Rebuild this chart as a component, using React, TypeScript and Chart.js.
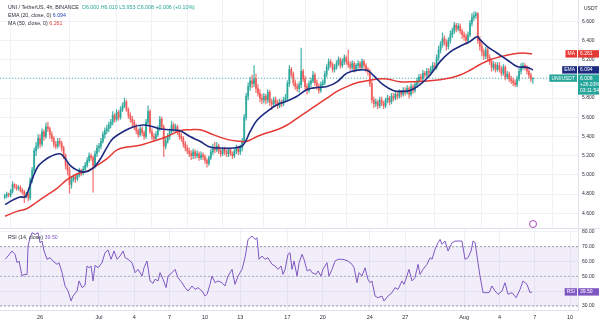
import React, { useEffect, useRef } from "react";
import { Chart, registerables } from "chart.js";
Chart.register(...registerables);

const FONT = "'Liberation Sans', Arial, sans-serif";
Chart.defaults.font.family = FONT;

// ---- data ----
const START_DAY = 23; // first candle: June 23, 00:00 (days counted from June 0; Jul 1 = 31, Aug 1 = 62)
const CANDLES_PER_DAY = 6; // 4h candles
const FIRST_OPEN = 4.77;

const closes = [
  4.78, 4.80, 4.79, 4.83, 4.90, 4.88,
  4.86, 4.87, 4.84, 4.82, 4.78, 4.80,
  4.76, 4.95, 5.05, 5.25, 5.30, 5.38,
  5.32, 5.45, 5.40, 5.50, 5.48, 5.42,
  5.38, 5.32, 5.30, 5.35, 5.33, 5.28,
  5.20, 5.10, 5.05, 4.90, 4.95, 4.98,
  4.96, 5.00, 5.04, 5.02, 5.06, 5.10,
  5.15, 5.20, 5.18, 5.10, 5.22, 5.28,
  5.30, 5.35, 5.42, 5.46, 5.48, 5.52,
  5.55, 5.62, 5.58, 5.65, 5.60, 5.68,
  5.72, 5.76, 5.68, 5.62, 5.58, 5.55,
  5.50, 5.46, 5.42, 5.48, 5.44, 5.40,
  5.55, 5.66, 5.45, 5.40, 5.38, 5.42,
  5.48, 5.58, 5.50, 5.30, 5.35, 5.40,
  5.45, 5.52, 5.48, 5.50, 5.45, 5.40,
  5.38, 5.32, 5.28, 5.25, 5.22, 5.20,
  5.24, 5.20, 5.22, 5.18, 5.21, 5.19,
  5.15, 5.12, 5.18, 5.24, 5.28, 5.26,
  5.30, 5.25, 5.22, 5.27, 5.24, 5.22,
  5.26, 5.22, 5.20, 5.25, 5.28, 5.24,
  5.28, 5.35, 5.60, 5.82, 5.92, 5.98,
  5.95, 6.00, 5.90, 5.85, 5.80, 5.78,
  5.82, 5.78, 5.86, 5.76, 5.74, 5.78,
  5.75, 5.72, 5.76, 5.74, 5.78, 5.80,
  5.95, 6.10, 6.05, 5.96, 5.92, 5.90,
  5.94, 6.08, 6.00, 5.92, 5.88, 5.95,
  5.98, 6.04, 5.96, 5.92, 5.88, 5.94,
  5.96, 6.05, 6.12, 6.18, 6.15, 6.10,
  6.12, 6.16, 6.20, 6.14, 6.18, 6.22,
  6.18, 6.15, 6.12, 6.16, 6.10, 6.14,
  6.16, 6.12, 6.18, 6.14, 6.10, 6.08,
  5.95, 5.78, 5.74, 5.76, 5.72, 5.78,
  5.75, 5.72, 5.78, 5.80, 5.76, 5.82,
  5.80, 5.84, 5.82, 5.86, 5.84, 5.88,
  5.86, 5.90, 5.84, 5.92, 5.88, 5.94,
  5.98, 6.02, 6.00, 6.06, 6.04, 6.08,
  6.06, 6.10, 6.14, 6.12, 6.22, 6.30,
  6.36, 6.42, 6.38, 6.34, 6.40, 6.46,
  6.50, 6.56, 6.52, 6.55, 6.50, 6.46,
  6.44, 6.40, 6.46, 6.58, 6.64, 6.66,
  6.68, 6.40, 6.34, 6.28, 6.24, 6.30,
  6.22, 6.18, 6.12, 6.15, 6.10, 6.14,
  6.10, 6.06, 6.12, 6.02, 6.05, 6.00,
  5.98, 5.96, 5.94, 6.00, 6.08, 6.12,
  6.14, 6.12, 6.08, 6.04, 6.00, 6.008,
];

const highs = [
  4.80, 4.82, 4.81, 4.85, 4.93, 4.91,
  4.90, 4.89, 4.89, 4.86, 4.84, 4.82,
  4.82, 4.97, 5.08, 5.28, 5.34, 5.42,
  5.42, 5.48, 5.47, 5.54, 5.55, 5.50,
  5.45, 5.40, 5.35, 5.38, 5.38, 5.35,
  5.30, 5.22, 5.13, 5.08, 4.98, 5.00,
  5.01, 5.02, 5.07, 5.06, 5.09, 5.13,
  5.18, 5.23, 5.22, 5.20, 5.25, 5.31,
  5.33, 5.38, 5.45, 5.49, 5.52, 5.55,
  5.58, 5.66, 5.64, 5.68, 5.67, 5.71,
  5.75, 5.80, 5.78, 5.70, 5.65, 5.61,
  5.57, 5.53, 5.48, 5.51, 5.50, 5.46,
  5.58, 5.72, 5.68, 5.48, 5.43, 5.45,
  5.51, 5.61, 5.60, 5.52, 5.38, 5.43,
  5.48, 5.56, 5.54, 5.53, 5.52, 5.47,
  5.43, 5.40, 5.35, 5.31, 5.28, 5.25,
  5.27, 5.26, 5.25, 5.24, 5.24, 5.23,
  5.21, 5.17, 5.20, 5.27, 5.32, 5.34,
  5.34, 5.32, 5.27, 5.29, 5.29, 5.26,
  5.28, 5.28, 5.24, 5.27, 5.31, 5.30,
  5.31, 5.38, 5.63, 5.85, 5.96, 6.02,
  6.04, 6.14, 6.05, 5.94, 5.89, 5.84,
  5.85, 5.84, 5.89, 5.88, 5.79, 5.81,
  5.81, 5.78, 5.79, 5.78, 5.81, 5.84,
  5.98, 6.14, 6.12, 6.07, 5.99, 5.95,
  5.97, 6.32, 6.10, 6.03, 5.95, 5.98,
  6.01, 6.08, 6.06, 5.99, 5.95, 5.97,
  5.99, 6.08, 6.15, 6.21, 6.20, 6.17,
  6.15, 6.19, 6.23, 6.22, 6.21, 6.25,
  6.24, 6.30, 6.18, 6.19, 6.18, 6.16,
  6.19, 6.18, 6.21, 6.20, 6.16, 6.12,
  6.10, 5.98, 5.81, 5.79, 5.78, 5.81,
  5.81, 5.77, 5.80, 5.83, 5.82, 5.85,
  5.85, 5.87, 5.86, 5.89, 5.88, 5.91,
  5.91, 5.93, 5.92, 5.95, 5.94, 5.97,
  6.01, 6.05, 6.05, 6.09, 6.08, 6.11,
  6.11, 6.13, 6.17, 6.17, 6.25, 6.34,
  6.39, 6.48, 6.45, 6.41, 6.43, 6.50,
  6.53, 6.59, 6.58, 6.58, 6.57, 6.52,
  6.49, 6.47, 6.49, 6.61, 6.68, 6.70,
  6.70, 6.69, 6.44, 6.38, 6.31, 6.33,
  6.32, 6.25, 6.21, 6.18, 6.17, 6.17,
  6.17, 6.13, 6.15, 6.14, 6.08, 6.07,
  6.03, 6.01, 5.99, 6.03, 6.11, 6.16,
  6.17, 6.16, 6.14, 6.10, 6.06, 6.010,
];

const lows = [
  4.75, 4.76, 4.77, 4.77, 4.81, 4.86,
  4.84, 4.84, 4.82, 4.80, 4.71, 4.76,
  4.73, 4.74, 4.92, 5.02, 5.20, 5.27,
  5.28, 5.30, 5.36, 5.38, 5.45, 5.38,
  5.35, 5.29, 5.27, 5.28, 5.30, 5.25,
  5.17, 5.06, 5.00, 4.81, 4.86, 4.93,
  4.92, 4.94, 4.98, 4.99, 5.00, 5.04,
  5.08, 5.13, 5.15, 4.82, 5.07, 5.19,
  5.24, 5.27, 5.33, 5.38, 5.43, 5.45,
  5.49, 5.52, 5.55, 5.56, 5.57, 5.58,
  5.66, 5.70, 5.66, 5.59, 5.55, 5.51,
  5.47, 5.43, 5.39, 5.40, 5.41, 5.37,
  5.38, 5.52, 5.43, 5.37, 5.35, 5.36,
  5.40, 5.46, 5.47, 5.19, 5.27, 5.33,
  5.37, 5.43, 5.45, 5.45, 5.42, 5.37,
  5.35, 5.29, 5.25, 5.22, 5.19, 5.16,
  5.17, 5.17, 5.18, 5.15, 5.16, 5.16,
  5.12, 5.08, 5.10, 5.16, 5.21, 5.23,
  5.24, 5.22, 5.19, 5.20, 5.21, 5.19,
  5.19, 5.20, 5.17, 5.18, 5.22, 5.21,
  5.21, 5.25, 5.33, 5.57, 5.78, 5.88,
  5.91, 5.92, 5.86, 5.82, 5.76, 5.74,
  5.75, 5.74, 5.75, 5.72, 5.68, 5.71,
  5.72, 5.69, 5.70, 5.71, 5.72, 5.76,
  5.78, 5.92, 6.02, 5.93, 5.89, 5.87,
  5.86, 5.91, 5.97, 5.89, 5.84, 5.86,
  5.92, 5.96, 5.93, 5.89, 5.85, 5.86,
  5.91, 5.94, 6.02, 6.09, 6.12, 6.07,
  6.07, 6.10, 6.14, 6.11, 6.12, 6.15,
  6.15, 6.12, 6.09, 6.10, 6.07, 6.08,
  6.11, 6.09, 6.10, 6.11, 6.07, 6.04,
  5.92, 5.75, 5.70, 5.71, 5.69, 5.70,
  5.72, 5.69, 5.70, 5.75, 5.73, 5.74,
  5.77, 5.78, 5.79, 5.80, 5.81, 5.82,
  5.83, 5.84, 5.80, 5.82, 5.85, 5.86,
  5.91, 5.95, 5.97, 5.98, 6.01, 6.02,
  6.02, 6.04, 6.07, 6.09, 6.10, 6.19,
  6.27, 6.33, 6.35, 6.30, 6.31, 6.37,
  6.43, 6.47, 6.49, 6.50, 6.47, 6.42,
  6.40, 6.36, 6.37, 6.44, 6.55, 6.61,
  6.63, 6.37, 6.30, 6.24, 6.20, 6.21,
  6.19, 6.15, 6.08, 6.09, 6.07, 6.08,
  6.07, 6.03, 6.04, 5.99, 6.00, 5.97,
  5.95, 5.93, 5.92, 5.92, 5.98, 6.05,
  6.10, 6.09, 6.05, 6.01, 5.97, 5.953,
];

const emaDays = [
  23.03, 23.71, 24.30, 24.73, 24.98, 25.41, 25.83, 26.25, 26.85, 27.70, 28.12, 28.55, 29.14,
  29.82, 30.50, 31.09, 31.69, 32.20, 33.05, 33.89, 34.74, 35.34, 36.19, 37.04, 37.88, 38.73,
  39.58, 40.43, 41.28, 42.38, 43.23, 43.83, 44.42, 45.27, 46.12, 46.97, 47.82, 48.67, 49.51,
  50.36, 51.21, 52.06, 52.91, 53.76, 54.27, 55.12, 55.97, 56.56, 57.41, 58.26, 59.11, 59.96,
  60.80, 61.65, 62.50, 63.10, 63.35, 63.95, 64.79, 65.64, 66.49, 67.34, 67.85,
];
const emaValues = [
  4.69, 4.74, 4.77, 4.77, 4.83, 4.98, 5.09, 5.14, 5.19, 5.22, 5.17, 5.10, 5.05,
  5.03, 5.07, 5.16, 5.29, 5.38, 5.45, 5.50, 5.52, 5.51, 5.48, 5.47, 5.46, 5.40,
  5.35, 5.29, 5.28, 5.28, 5.31, 5.45, 5.57, 5.66, 5.73, 5.77, 5.82, 5.89, 5.91,
  5.92, 5.97, 6.06, 6.09, 6.09, 6.04, 5.94, 5.88, 5.87, 5.88, 5.94, 6.04, 6.18,
  6.28, 6.34, 6.39, 6.44, 6.41, 6.34, 6.27, 6.20, 6.13, 6.12, 6.094,
];

const maDays = [
  23.03, 24.05, 24.90, 25.75, 26.59, 27.44, 28.29, 29.14, 29.99, 30.84, 31.69, 32.54, 33.39,
  34.49, 35.59, 36.78, 37.88, 38.73, 39.58, 40.69, 41.87, 42.98, 43.57, 44.42, 45.27, 46.12,
  46.97, 47.82, 48.67, 49.51, 50.36, 51.21, 52.06, 52.91, 53.76, 54.61, 55.46, 56.56, 57.41,
  59.11, 60.80, 61.65, 62.50, 63.35, 64.20, 65.05, 66.15, 67.00, 67.77,
];
const maValues = [
  4.57, 4.62, 4.65, 4.72, 4.79, 4.86, 4.95, 5.01, 5.04, 5.10, 5.17, 5.26, 5.29,
  5.31, 5.35, 5.40, 5.46, 5.47, 5.47, 5.42, 5.37, 5.35, 5.35, 5.40, 5.44, 5.47,
  5.52, 5.59, 5.66, 5.73, 5.80, 5.87, 5.92, 5.96, 5.98, 6.00, 6.00, 5.97, 5.97,
  5.98, 6.01, 6.04, 6.09, 6.15, 6.20, 6.23, 6.26, 6.27, 6.261,
];

const rsiDays = [
  23.03, 23.28, 23.62, 23.88, 24.05, 24.22, 24.47, 24.64, 24.90, 24.98, 25.15, 25.32, 25.58,
  25.83, 26.00, 26.17, 26.34, 26.59, 26.85, 27.10, 27.44, 27.61, 27.87, 28.12, 28.38, 28.63,
  28.80, 29.14, 29.31, 29.57, 29.82, 29.99, 30.16, 30.33, 30.50, 30.67, 30.92, 31.26, 31.52,
  31.77, 32.03, 32.28, 32.54, 32.79, 33.05, 33.22, 33.47, 33.81, 34.07, 34.32, 34.66, 34.83,
  35.08, 35.34, 35.59, 35.76, 36.02, 36.19, 36.44, 36.70, 36.87, 37.21, 37.46, 37.71, 38.05,
  38.31, 38.56, 38.90, 39.16, 39.41, 39.75, 40.01, 40.18, 40.43, 40.60, 40.86, 41.11, 41.45,
  41.70, 41.96, 42.30, 42.55, 42.81, 43.15, 43.40, 43.66, 44.00, 44.25, 44.42, 44.59, 44.84,
  45.10, 45.35, 45.69, 45.95, 46.20, 46.46, 46.63, 46.80, 47.05, 47.22, 47.39, 47.56, 47.82,
  47.99, 48.24, 48.41, 48.67, 48.92, 49.09, 49.43, 49.60, 49.85, 50.02, 50.36, 50.53, 50.79,
  51.04, 51.30, 51.72, 52.15, 52.49, 52.66, 52.91, 53.08, 53.33, 53.59, 53.84, 54.01, 54.18,
  54.44, 54.69, 55.03, 55.20, 55.54, 55.88, 56.13, 56.39, 56.73, 56.90, 57.15, 57.32, 57.58,
  57.83, 58.09, 58.26, 58.51, 58.85, 59.11, 59.28, 59.53, 59.79, 59.96, 60.13, 60.38, 60.64,
  60.98, 61.23, 61.48, 61.82, 62.08, 62.33, 62.59, 62.76, 62.93, 63.18, 63.35, 63.61, 63.86,
  64.12, 64.37, 64.63, 64.88, 65.22, 65.47, 65.73, 66.07, 66.41, 66.75, 67.00, 67.34, 67.60,
  67.77,
];
const rsiValues = [
  61.5, 63.7, 67.1, 64.8, 59.2, 60.3, 50.2, 51.3, 51.3, 70.4, 76.0, 79.4, 78.3,
  79.4, 72.7, 73.8, 67.1, 61.5, 62.6, 60.3, 58.1, 59.2, 52.5, 43.5, 40.1, 33.4,
  36.7, 40.1, 46.9, 42.4, 43.9, 57.0, 55.8, 57.0, 46.9, 57.4, 55.8, 59.2, 66.0,
  67.8, 61.5, 67.1, 61.5, 63.7, 67.1, 62.6, 61.5, 59.2, 52.5, 54.7, 50.2, 55.8,
  60.3, 46.9, 45.3, 48.0, 46.9, 52.5, 48.0, 42.4, 50.2, 52.5, 54.7, 49.1, 45.7,
  42.4, 40.1, 43.5, 41.2, 42.4, 40.1, 36.7, 37.9, 44.6, 50.2, 45.7, 46.9, 45.7,
  43.5, 50.2, 54.7, 44.6, 50.2, 54.7, 62.6, 74.9, 77.2, 74.9, 76.0, 61.5, 63.7,
  61.5, 62.6, 58.1, 57.0, 54.7, 57.0, 51.3, 54.7, 64.8, 66.0, 54.7, 60.3, 50.2,
  59.2, 64.8, 61.5, 53.6, 54.7, 52.5, 51.3, 53.6, 50.2, 54.7, 59.2, 50.2, 54.7,
  60.3, 61.5, 61.5, 60.3, 58.1, 55.8, 45.7, 52.5, 50.2, 55.8, 48.0, 45.7, 46.9,
  36.7, 35.6, 36.7, 33.4, 36.7, 39.0, 42.4, 41.2, 46.9, 44.6, 50.2, 54.7, 46.9,
  49.1, 58.1, 51.3, 54.7, 58.1, 62.6, 61.5, 68.2, 72.7, 74.9, 71.6, 73.8, 67.1,
  72.7, 73.8, 73.8, 73.8, 61.5, 62.6, 67.1, 73.8, 72.7, 59.2, 50.2, 39.0, 39.0,
  39.0, 43.5, 40.1, 37.9, 40.1, 45.7, 37.9, 39.0, 35.6, 41.2, 46.9, 44.6, 39.0,
  39.5,
];

const priceTicks = [4.6, 4.8, 5.0, 5.2, 5.4, 5.6, 5.8, 6.0, 6.2, 6.4, 6.6];
const rsiTicks = [30, 40, 50, 60, 70, 80];
const rsiBand = [70, 30];
const rsiMid = 50;
const xTickDays = [26, 31, 34, 37, 40, 43, 47, 50, 54, 57, 62, 65, 68, 71];
const xTickLabels = ["26", "Jul", "4", "7", "10", "13", "17", "20", "24", "27", "Aug", "4", "7", "10"];

const lastEma = 6.094;
const lastMa = 6.261;
const lastRsi = 39.5;
const changeText = "+0.006 (+0.10%)";
const lastTagExtra = ["+26.03%", "03:11:54"];

// view window
const X_MIN = 22.6;
const X_MAX = 71.67;
const PRICE_MIN = 4.447;
const PRICE_MAX = 6.822;
const RSI_MIN = 27.3;
const RSI_MAX = 82.6;

// ---- styles ----
const UP = "#26a69a";
const DOWN = "#ef5350";
const UP_SOFT = "rgba(38,166,154,0.85)";
const DOWN_SOFT = "rgba(239,83,80,0.8)";
const EMA_COLOR = "#1c2a80";
const MA_COLOR = "#e53935";
const RSI_COLOR = "#7e57c2";
const GRID = "#eef1f6";
const TEXT = "#2a2e39";
const AXIS_W = 22;

const opens = closes.map((c, i) => (i === 0 ? FIRST_OPEN : closes[i - 1]));
const times = closes.map((_, i) => START_DAY + i / CANDLES_PER_DAY);
const candleColors = closes.map((c, i) => (c >= opens[i] ? UP_SOFT : DOWN_SOFT));
const lastIdx = closes.length - 1;
const lastClose = closes[lastIdx];

type Tag = { name: string; value: number; lines: string[]; color: string };

function tagPlugin(id: string, scaleId: string, tags: Tag[]) {
  return {
    id,
    afterDraw(chart: any) {
      const { ctx, chartArea } = chart;
      const scale = chart.scales[scaleId];
      ctx.save();
      ctx.font = `5px ${FONT}`;
      ctx.textBaseline = "middle";
      tags.forEach((t) => {
        const y = scale.getPixelForValue(t.value);
        const lh = 6.4;
        const top = y - lh / 2 - 0.5;
        const nw = ctx.measureText(t.name).width + 4;
        ctx.fillStyle = t.color;
        ctx.fillRect(chartArea.right - nw - 1, top, nw, lh + 1);
        ctx.fillRect(chartArea.right, top, chart.width - chartArea.right - 1, t.lines.length * lh + 1);
        ctx.fillStyle = "#ffffff";
        ctx.textAlign = "center";
        ctx.fillText(t.name, chartArea.right - 1 - nw / 2, y);
        ctx.textAlign = "left";
        t.lines.forEach((l, k) => ctx.fillText(l, chartArea.right + 2, y + k * lh));
      });
      ctx.restore();
    },
  };
}

function zeroPad(s: any) {
  s.paddingTop = 0;
  s.paddingBottom = 0;
  s.paddingLeft = 0;
  s.paddingRight = 0;
}

function xScale(showLabels: boolean) {
  return {
    type: "linear" as const,
    min: X_MIN,
    max: X_MAX,
    offset: false,
    afterBuildTicks: (s: any) => {
      s.ticks = xTickDays.map((v) => ({ value: v }));
    },
    ticks: {
      display: showLabels,
      autoSkip: false,
      maxRotation: 0,
      padding: 4,
      color: TEXT,
      font: { size: 5.5 },
      callback: (_v: any, i: number) => xTickLabels[i],
    },
    grid: { color: GRID, drawTicks: false },
    border: { display: showLabels, color: "#e0e3eb" },
    afterFit: (s: any) => {
      s.height = showLabels ? 11 : 0;
      zeroPad(s);
    },
  };
}

export default function App() {
  const mainRef = useRef<HTMLCanvasElement>(null);
  const rsiRef = useRef<HTMLCanvasElement>(null);

  useEffect(() => {
    const mainChart = new Chart(mainRef.current!, {
      type: "bar",
      data: {
        datasets: [
          {
            type: "line",
            data: emaDays.map((d, i) => ({ x: d, y: emaValues[i] })),
            borderColor: EMA_COLOR,
            borderWidth: 1.6,
            pointRadius: 0,
            tension: 0.4,
            order: 1,
          } as any,
          {
            type: "line",
            data: maDays.map((d, i) => ({ x: d, y: maValues[i] })),
            borderColor: MA_COLOR,
            borderWidth: 1.5,
            pointRadius: 0,
            tension: 0.4,
            order: 2,
          },
          {
            type: "bar",
            data: times.map((t, i) => ({ x: t, y: [opens[i], closes[i]] })),
            backgroundColor: candleColors,
            barThickness: 1.2,
            minBarLength: 0.6,
            grouped: false,
            order: 3,
          },
          {
            type: "bar",
            data: times.map((t, i) => ({ x: t, y: [lows[i], highs[i]] })),
            backgroundColor: candleColors,
            barThickness: 0.6,
            grouped: false,
            order: 4,
          },
          {
            type: "line",
            data: [
              { x: X_MIN, y: lastClose },
              { x: X_MAX, y: lastClose },
            ],
            borderColor: "rgba(38,166,154,0.8)",
            borderWidth: 1,
            borderDash: [1, 2],
            pointRadius: 0,
            order: 5,
          },
        ],
      } as any,
      options: {
        responsive: false,
        animation: false,
        devicePixelRatio: 1,
        layout: { padding: 0 },
        plugins: { legend: { display: false }, tooltip: { enabled: false } },
        events: [],
        scales: {
          x: xScale(false),
          y: {
            type: "linear",
            position: "right",
            min: PRICE_MIN,
            max: PRICE_MAX,
            afterBuildTicks: (s: any) => {
              s.ticks = priceTicks.map((v) => ({ value: v }));
            },
            ticks: {
              padding: 4,
              color: TEXT,
              font: { size: 5 },
              callback: (v: any) => Number(v).toFixed(3),
            },
            grid: { color: GRID, drawTicks: false },
            border: { display: true, color: "#e0e3eb" },
            afterFit: (s: any) => {
              s.width = AXIS_W;
              zeroPad(s);
            },
          },
        },
      } as any,
      plugins: [
        tagPlugin("mainTags", "y", [
          { name: "MA", value: lastMa, lines: [lastMa.toFixed(3)], color: MA_COLOR },
          { name: "EMA", value: lastEma, lines: [lastEma.toFixed(3)], color: EMA_COLOR },
          { name: "UNI/USDT", value: lastClose, lines: [lastClose.toFixed(3), ...lastTagExtra], color: UP },
        ]),
      ],
    });

    const rsiChart = new Chart(rsiRef.current!, {
      type: "line",
      data: {
        datasets: [
          {
            data: rsiDays.map((d, i) => ({ x: d, y: rsiValues[i] })),
            borderColor: RSI_COLOR,
            borderWidth: 1,
            pointRadius: 0,
            tension: 0,
            order: 1,
          },
          {
            data: [
              { x: X_MIN, y: rsiBand[0] },
              { x: X_MAX, y: rsiBand[0] },
            ],
            borderColor: "rgba(120,123,134,0.7)",
            borderWidth: 1,
            borderDash: [2, 2],
            pointRadius: 0,
            fill: { value: rsiBand[1] },
            backgroundColor: "rgba(126,87,194,0.1)",
            order: 3,
          },
          {
            data: [
              { x: X_MIN, y: rsiMid },
              { x: X_MAX, y: rsiMid },
            ],
            borderColor: "rgba(120,123,134,0.5)",
            borderWidth: 1,
            borderDash: [2, 2],
            pointRadius: 0,
            order: 2,
          },
          {
            data: [
              { x: X_MIN, y: rsiBand[1] },
              { x: X_MAX, y: rsiBand[1] },
            ],
            borderColor: "rgba(120,123,134,0.7)",
            borderWidth: 1,
            borderDash: [2, 2],
            pointRadius: 0,
            order: 2,
          },
        ],
      } as any,
      options: {
        responsive: false,
        animation: false,
        devicePixelRatio: 1,
        layout: { padding: 0 },
        plugins: { legend: { display: false }, tooltip: { enabled: false } },
        events: [],
        scales: {
          x: xScale(true),
          y: {
            type: "linear",
            position: "right",
            min: RSI_MIN,
            max: RSI_MAX,
            afterBuildTicks: (s: any) => {
              s.ticks = rsiTicks.map((v) => ({ value: v }));
            },
            ticks: {
              padding: 4,
              color: TEXT,
              font: { size: 5 },
              callback: (v: any) => Number(v).toFixed(2),
            },
            grid: { color: GRID, drawTicks: false },
            border: { display: true, color: "#e0e3eb" },
            afterFit: (s: any) => {
              s.width = AXIS_W;
              zeroPad(s);
            },
          },
        },
      } as any,
      plugins: [
        tagPlugin("rsiTags", "y", [
          { name: "RSI", value: lastRsi, lines: [lastRsi.toFixed(2)], color: RSI_COLOR },
        ]),
      ],
    });

    return () => {
      mainChart.destroy();
      rsiChart.destroy();
    };
  }, []);

  const legendFont = `5.3px ${FONT}`;
  return (
    <div style={{ position: "absolute", left: 0, top: 0, width: 600, height: 321, background: "#fff", overflow: "hidden" }}>
      <canvas ref={mainRef} width={600} height={228} style={{ position: "absolute", left: 0, top: 0, width: 600, height: 228 }} />
      <canvas ref={rsiRef} width={600} height={93} style={{ position: "absolute", left: 0, top: 228, width: 600, height: 93 }} />
      <div style={{ position: "absolute", left: 0, top: 227.5, width: 600, height: 1, background: "#e0e3eb" }} />
      <div style={{ position: "absolute", left: 8, top: 2.5, font: legendFont, color: TEXT, lineHeight: "8px", whiteSpace: "pre" }}>
        <div>
          {"UNI / TetherUS, 4h, BINANCE  "}
          <span style={{ color: UP }}>
            {`O${opens[lastIdx].toFixed(3)} H${highs[lastIdx].toFixed(3)} L${lows[lastIdx].toFixed(3)} C${lastClose.toFixed(3)} ${changeText}`}
          </span>
        </div>
        <div>
          {"EMA (20, close, 0) "}
          <span style={{ color: "#2a44b0" }}>{lastEma.toFixed(3)}</span>
        </div>
        <div>
          {"MA (50, close, 0) "}
          <span style={{ color: MA_COLOR }}>{lastMa.toFixed(3)}</span>
        </div>
      </div>
      <div style={{ position: "absolute", left: 8, top: 232.5, font: legendFont, color: TEXT, lineHeight: "8px", whiteSpace: "pre" }}>
        {"RSI (14, close) "}
        <span style={{ color: RSI_COLOR }}>{lastRsi.toFixed(2)}</span>
      </div>
      <div style={{ position: "absolute", left: 584, top: 4.5, font: `5px ${FONT}`, color: TEXT }}>USDT</div>
      <div
        style={{
          position: "absolute",
          left: 529,
          top: 220,
          width: 6,
          height: 6,
          borderRadius: "50%",
          border: "1px solid #ab47bc",
          background: "#fff",
        }}
      />
    </div>
  );
}
